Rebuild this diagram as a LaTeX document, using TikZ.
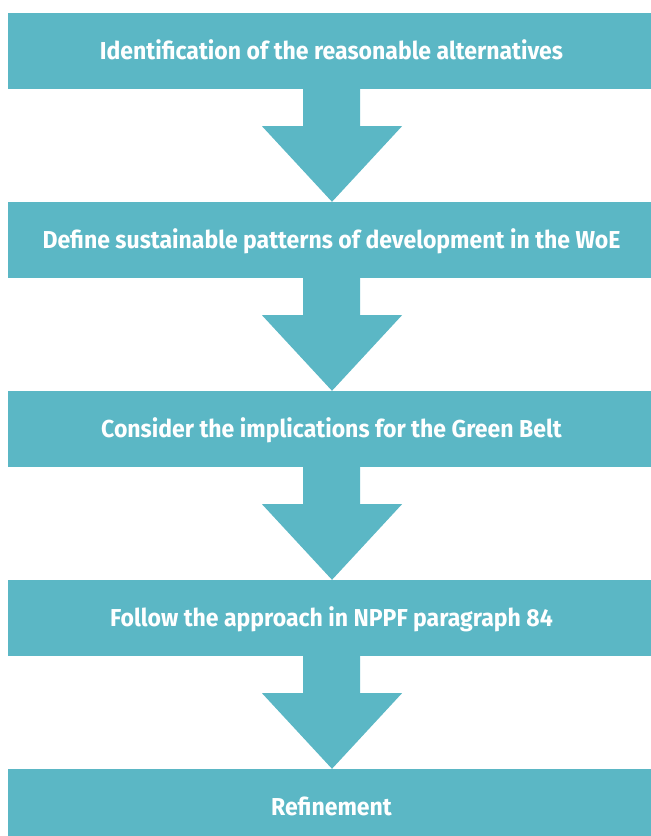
\documentclass[tikz,border=0pt]{standalone}
\usepackage{fontspec}
\setmainfont{Fira Sans}
\newfontfamily\boxfont[FakeStretch=0.94]{Fira Sans}
\usetikzlibrary{calc}
\definecolor{boxcol}{HTML}{5BB7C5}
\tikzset{
  stepbox/.style={fill=boxcol, text=white, minimum width=643pt, minimum height=76pt,
    inner sep=0pt, text height=17pt, text depth=0pt,
    execute at begin node={\hspace*{4pt}},
    font=\boxfont\bfseries\fontsize{24.5}{28}\selectfont},
  arrowshape/.style={fill=boxcol}
}
\newcommand{\flowarrow}[2]{%
  \fill[arrowshape] ($(#1.south)+(-26.5,-1)$) -- ($(#1.south)+(30.5,-1)$) --
    ($(#1.south)+(30.5,37)$) -- ($(#1.south)+(72.5,37)$) --
    ($(#2.north)+(2.5,0)$) -- ($(#1.south)+(-67.5,37)$) --
    ($(#1.south)+(-26.5,37)$) -- cycle;}
\begin{document}
\begin{tikzpicture}[x=1pt,y=-1pt]
\useasboundingbox (0,0) rectangle (651,836);
\clip (0,0) rectangle (651,836);
\node[stepbox] (b1) at (329.5,51) {Identification of the reasonable alternatives};
\node[stepbox] (b2) at (329.5,240) {Define sustainable patterns of development in the WoE};
\node[stepbox] (b3) at (329.5,429) {Consider the implications for the Green Belt};
\node[stepbox] (b4) at (329.5,618) {Follow the approach in NPPF paragraph 84};
\node[stepbox] (b5) at (329.5,807) {Refinement};
\flowarrow{b1}{b2}
\flowarrow{b2}{b3}
\flowarrow{b3}{b4}
\flowarrow{b4}{b5}
\end{tikzpicture}
\end{document}
